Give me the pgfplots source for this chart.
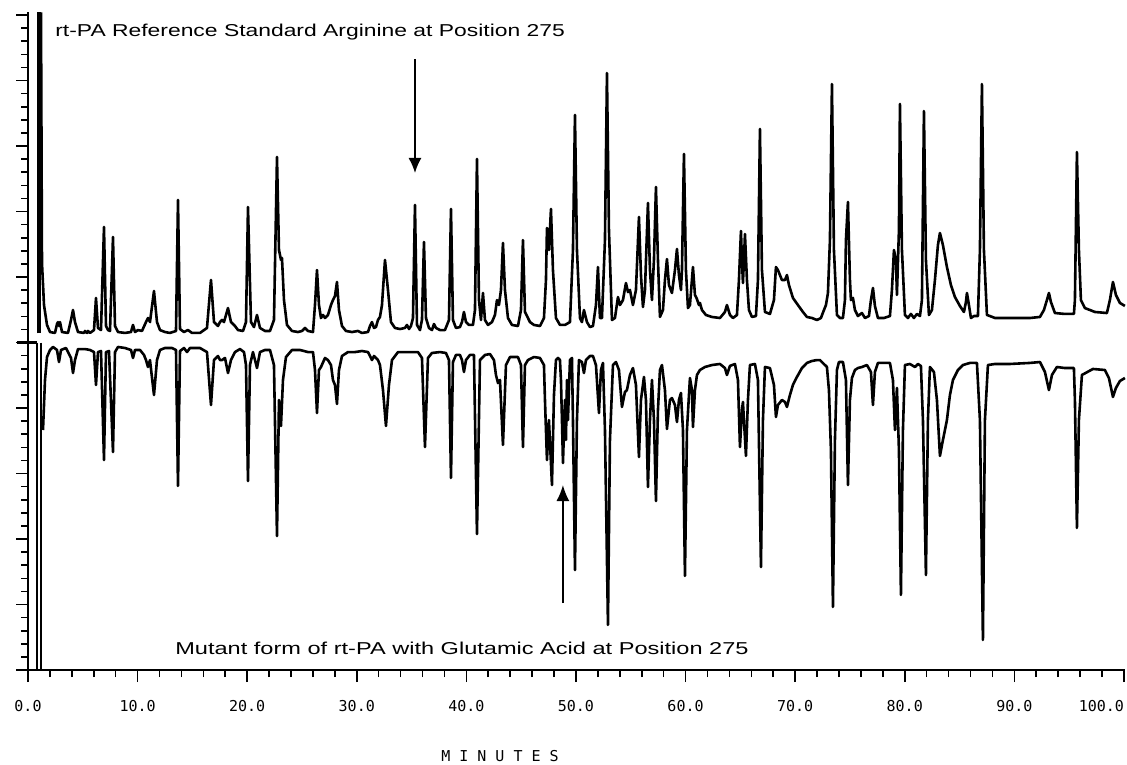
\documentclass[border=0pt]{standalone}
\usepackage{fontspec}
\usepackage{pgfplots}
\pgfplotsset{compat=1.18}
\usetikzlibrary{arrows.meta}
\setmainfont{Liberation Sans}
\newfontfamily\monofont{DejaVu Sans Mono}

\begin{document}
\begin{tikzpicture}
\begin{axis}[
    scale only axis,
    width=548.5pt,
    height=328.8pt,
    xmin=0, xmax=100.1,
    ymin=-25, ymax=25.2,
    axis lines*=left,
    axis line style={line width=0.8pt},
    tick align=outside,
    xtick={0,10,...,100},
    xticklabels={0.0,10.0,20.0,30.0,40.0,50.0,60.0,70.0,80.0,90.0,\llap{100.0}},
    extra x ticks={2,4,6,8,12,14,16,18,22,24,26,28,32,34,36,38,42,44,46,48,52,54,56,58,62,64,66,68,72,74,76,78,82,84,86,88,92,94,96,98},
    extra x tick labels={},
    extra x tick style={major tick length=3.5pt},
    ytick={-25,-20,...,25},
    yticklabels={},
    extra y ticks={-24,-23,-22,-21,-19,-18,-17,-16,-14,-13,-12,-11,-9,-8,-7,-6,-4,-3,-2,-1,1,2,3,4,6,7,8,9,11,12,13,14,16,17,18,19,21,22,23,24},
    extra y tick labels={},
    extra y tick style={major tick length=3.5pt},
    major tick length=6pt,
    tick style={black, line width=0.8pt},
    xticklabel style={font=\monofont\fontsize{7.5}{9}\selectfont, anchor=base, yshift=-14.5pt},
    clip=false,
    no markers,
    trace/.style={black, line width=1.3pt, line join=round, mark=none},
]

% solvent front, off scale
\addplot[black, line width=2.2pt] coordinates {(0.98,0.7) (0.98,25.2)};
\addplot[black, line width=0.9pt] coordinates {(0.85,0) (0.85,-25)};
\addplot[black, line width=0.9pt] coordinates {(1.16,0) (1.16,-25)};

% reference standard (Arg 275)
\addplot[trace] coordinates {
(1.186,25.2) (1.277,6.07) (1.460,2.86) (1.734,1.34) (2.007,0.80) (2.464,0.73)
(2.646,1.41) (2.737,1.56) (2.828,1.26) (2.920,1.56) (3.102,0.80) (3.650,0.73)
(3.923,1.72) (4.106,2.48) (4.288,1.56) (4.562,0.80) (5.109,0.73) (5.201,0.88)
(5.383,0.73) (5.474,0.88) (5.657,0.73) (6.022,0.95) (6.204,3.40) (6.387,1.11)
(6.661,0.95) (6.934,8.82) (7.117,1.26) (7.299,0.95) (7.482,0.88) (7.755,8.05)
(7.938,1.26) (8.212,0.80) (8.850,0.73) (9.398,0.80) (9.580,1.34) (9.763,0.80)
(10.036,0.95) (10.401,0.88) (10.766,1.56) (10.949,1.87) (11.131,1.56) (11.496,3.93)
(11.770,1.56) (12.044,0.95) (12.500,0.80) (12.956,0.73) (13.504,0.88) (13.686,10.88)
(13.869,1.03) (14.234,0.80) (14.599,0.95) (14.964,0.73) (15.693,0.73) (16.332,1.11)
(16.697,4.77) (16.971,1.56) (17.336,1.26) (17.518,1.56) (17.701,1.72) (17.883,1.56)
(18.248,2.63) (18.522,1.56) (18.887,1.26) (19.161,0.95) (19.617,0.88) (19.891,1.56)
(20.073,10.34) (20.347,1.56) (20.620,1.18) (20.894,2.10) (21.168,1.11) (21.624,0.88)
(22.080,0.88) (22.445,1.72) (22.719,14.16) (22.901,7.06) (23.084,6.30) (23.175,6.45)
(23.358,3.24) (23.631,1.34) (24.088,0.88) (24.635,0.80) (25.000,0.88) (25.274,1.11)
(25.547,0.88) (26.004,0.80) (26.186,2.86) (26.369,5.53) (26.551,2.86) (26.734,1.87)
(26.916,2.10) (27.099,1.87) (27.372,2.10) (27.646,2.86) (27.828,3.24) (28.011,3.55)
(28.193,4.62) (28.376,2.48) (28.650,1.26) (29.015,0.88) (29.562,0.80) (30.109,0.88)
(30.474,0.73) (31.022,0.80) (31.204,1.26) (31.387,1.56) (31.569,1.11) (31.752,1.18)
(31.934,1.72) (32.117,1.95) (32.299,2.86) (32.573,6.30) (32.847,4.01) (33.120,1.56)
(33.485,1.11) (33.942,1.03) (34.398,1.11) (34.580,1.34) (34.763,1.03) (34.945,1.26)
(35.128,1.87) (35.310,10.50) (35.493,1.34) (35.766,0.95) (35.949,1.72) (36.131,7.67)
(36.314,1.87) (36.588,1.11) (36.861,0.95) (37.044,1.41) (37.226,1.11) (37.591,0.95)
(38.047,0.95) (38.412,1.72) (38.595,10.19) (38.777,1.72) (39.051,1.11) (39.416,1.18)
(39.599,1.56) (39.781,2.33) (39.964,1.56) (40.237,1.34) (40.602,1.34) (40.785,2.48)
(40.967,14.01) (41.150,3.24) (41.332,1.72) (41.515,3.78) (41.697,1.72) (41.971,1.34)
(42.336,1.56) (42.609,2.10) (42.792,3.24) (42.974,2.86) (43.157,4.01) (43.339,7.60)
(43.522,4.01) (43.796,1.87) (44.161,1.34) (44.708,1.26) (44.982,2.48) (45.164,7.82)
(45.347,2.33) (45.620,1.87) (45.803,1.56) (46.168,1.34) (46.715,1.26) (47.080,1.87)
(47.263,4.77) (47.354,8.74) (47.536,7.06) (47.719,10.19) (47.901,5.53) (48.175,1.87)
(48.540,1.34) (48.996,1.34) (49.453,1.56) (49.726,7.06) (49.909,17.37) (50.091,7.06)
(50.365,1.87) (50.547,1.56) (50.730,2.48) (51.004,1.56) (51.277,1.18) (51.551,1.26)
(51.825,2.86) (52.007,5.76) (52.190,1.87) (52.372,1.87) (52.646,7.82) (52.828,20.57)
(53.011,8.59) (53.285,1.72) (53.558,1.87) (53.832,3.47) (54.015,2.86) (54.288,3.24)
(54.562,4.54) (54.745,3.85) (54.927,4.01) (55.201,2.86) (55.474,4.01) (55.748,9.58)
(55.931,5.15) (56.113,2.71) (56.296,4.01) (56.569,10.65) (56.752,5.53) (56.934,3.24)
(57.117,6.30) (57.299,11.87) (57.482,6.30) (57.664,1.95) (57.938,2.48) (58.120,4.77)
(58.303,6.37) (58.485,4.39) (58.759,3.78) (59.033,5.53) (59.215,7.14) (59.398,5.15)
(59.580,4.01) (59.672,5.53) (59.854,14.39) (60.036,5.53) (60.219,2.63) (60.401,2.86)
(60.675,5.76) (60.858,3.63) (61.040,3.32) (61.223,2.86) (61.314,3.02) (61.496,2.48)
(61.861,2.10) (62.409,1.95) (63.139,1.87) (63.595,2.33) (63.777,2.86) (64.051,2.10)
(64.325,1.87) (64.690,2.10) (64.872,4.77) (65.055,8.51) (65.146,6.30) (65.237,4.54)
(65.328,6.30) (65.420,8.28) (65.602,4.77) (65.785,2.48) (66.058,1.95) (66.423,2.02)
(66.606,4.77) (66.788,16.30) (66.971,5.53) (67.245,2.33) (67.701,2.18) (68.066,3.24)
(68.248,5.76) (68.431,5.53) (68.796,4.77) (69.069,4.77) (69.252,5.15) (69.434,4.39)
(69.799,3.40) (70.255,2.86) (70.712,2.33) (71.077,1.95) (71.533,1.87) (71.989,1.72)
(72.354,1.87) (72.628,2.48) (72.810,2.86) (72.993,3.78) (73.175,7.82) (73.358,19.73)
(73.540,7.06) (73.814,2.10) (74.088,1.87) (74.361,1.87) (74.544,3.24) (74.635,7.82)
(74.818,10.73) (75.000,4.77) (75.091,3.24) (75.274,3.40) (75.456,2.48) (75.730,2.02)
(76.095,2.25) (76.369,1.87) (76.734,2.02) (76.916,3.24) (77.099,4.16) (77.281,2.79)
(77.555,1.87) (78.102,1.87) (78.650,2.02) (78.832,4.01) (79.015,7.06) (79.197,6.30)
(79.288,3.63) (79.471,8.59) (79.562,18.21) (79.745,7.06) (80.018,2.10) (80.292,1.87)
(80.566,2.18) (80.839,1.87) (81.113,2.18) (81.387,2.02) (81.569,3.24) (81.752,17.67)
(81.934,6.30) (82.208,2.10) (82.482,2.48) (82.755,4.77) (83.029,7.44) (83.212,8.36)
(83.485,7.44) (83.850,5.76) (84.215,4.39) (84.580,3.47) (85.036,2.79) (85.401,2.33)
(85.584,3.09) (85.675,3.78) (85.858,2.86) (86.040,1.87) (86.314,2.02) (86.679,2.02)
(86.861,7.06) (87.044,19.73) (87.226,7.06) (87.500,2.10) (87.774,2.02) (88.230,1.87)
(89.599,1.87) (91.423,1.87) (92.336,1.95) (92.701,2.48) (92.974,3.24) (93.157,3.78)
(93.339,3.09) (93.704,2.25) (94.617,2.18) (95.438,2.18) (95.529,3.24) (95.712,14.54)
(95.894,7.06) (96.077,3.24) (96.442,2.63) (97.354,2.33) (98.449,2.25) (98.720,3.24)
(99.000,4.62) (99.270,3.63) (99.635,3.02) (100.091,2.79)
};

% mutant (Glu 275), drawn inverted
\addplot[trace] coordinates {
(1.369,-6.68) (1.551,-2.86) (1.734,-1.11) (2.007,-0.57) (2.281,-0.34) (2.646,-0.57)
(2.828,-1.49) (3.011,-0.57) (3.467,-0.42) (3.923,-1.18) (4.106,-2.33) (4.288,-1.34)
(4.562,-0.50) (5.201,-0.50) (5.657,-0.57) (6.022,-0.73) (6.204,-3.24) (6.387,-0.73)
(6.661,-0.65) (6.934,-8.97) (7.117,-0.73) (7.391,-0.65) (7.755,-8.36) (7.938,-0.73)
(8.212,-0.34) (8.850,-0.42) (9.398,-0.57) (9.580,-1.18) (9.763,-0.57) (10.219,-0.57)
(10.584,-0.95) (10.766,-1.34) (10.949,-1.87) (11.131,-1.34) (11.496,-4.01) (11.770,-1.34)
(12.044,-0.57) (12.500,-0.42) (13.139,-0.42) (13.504,-0.57) (13.686,-10.95) (13.869,-0.65)
(14.234,-0.42) (14.507,-0.73) (14.781,-0.42) (15.693,-0.42) (16.332,-0.73) (16.697,-4.77)
(16.971,-1.34) (17.336,-1.03) (17.518,-1.34) (17.701,-1.34) (17.974,-1.18) (18.248,-2.33)
(18.522,-1.34) (18.887,-0.73) (19.343,-0.50) (19.708,-0.73) (19.891,-1.72) (20.073,-10.57)
(20.255,-1.72) (20.529,-0.73) (20.894,-1.95) (21.168,-0.73) (21.624,-0.57) (22.080,-0.57)
(22.445,-1.72) (22.719,-14.77) (22.901,-4.39) (23.084,-6.37) (23.266,-2.86) (23.540,-1.11)
(24.088,-0.57) (24.818,-0.57) (25.547,-0.73) (26.004,-0.73) (26.186,-2.10) (26.369,-5.38)
(26.551,-2.10) (26.734,-1.87) (27.099,-1.18) (27.372,-1.34) (27.646,-1.72) (27.828,-2.86)
(28.011,-3.24) (28.193,-4.69) (28.376,-2.10) (28.650,-1.03) (29.197,-0.73) (29.836,-0.73)
(30.474,-0.65) (31.022,-0.73) (31.204,-1.03) (31.387,-1.34) (31.569,-1.03) (31.934,-1.34)
(32.117,-1.72) (32.391,-3.63) (32.664,-6.37) (32.938,-3.24) (33.212,-1.34) (33.759,-0.73)
(34.672,-0.73) (35.584,-0.73) (35.949,-1.18) (36.223,-7.98) (36.496,-1.18) (36.861,-0.80)
(37.591,-0.73) (38.139,-0.80) (38.412,-1.34) (38.595,-10.34) (38.777,-1.49) (39.051,-0.95)
(39.416,-0.95) (39.599,-1.34) (39.781,-2.25) (39.964,-1.34) (40.328,-0.95) (40.693,-0.95)
(40.967,-14.62) (41.241,-1.34) (41.697,-0.95) (42.153,-0.88) (42.518,-1.34) (42.701,-2.48)
(42.883,-3.09) (43.066,-2.86) (43.339,-7.82) (43.613,-1.72) (43.978,-1.11) (44.708,-1.11)
(44.982,-1.72) (45.164,-7.98) (45.347,-1.72) (45.620,-1.34) (46.168,-1.11) (46.715,-1.18)
(47.080,-1.72) (47.172,-4.39) (47.354,-8.97) (47.536,-5.92) (47.810,-10.88) (47.993,-4.01)
(48.175,-1.34) (48.358,-1.18) (48.540,-1.34) (48.631,-2.86) (48.723,-5.92) (48.814,-9.20)
(48.996,-4.39) (49.088,-7.44) (49.179,-2.86) (49.270,-5.92) (49.453,-1.34) (49.635,-1.18)
(49.726,-5.92) (49.909,-17.37) (50.091,-5.92) (50.274,-1.34) (50.547,-1.49) (50.730,-2.33)
(50.912,-1.34) (51.277,-1.03) (51.551,-1.03) (51.825,-1.72) (52.099,-5.38) (52.281,-2.10)
(52.464,-1.56) (52.646,-6.68) (52.920,-21.56) (53.102,-7.44) (53.376,-1.72) (53.650,-1.49)
(53.923,-2.10) (54.197,-4.92) (54.471,-3.78) (54.653,-3.63) (54.927,-2.48) (55.201,-1.95)
(55.474,-3.24) (55.748,-8.74) (55.931,-4.39) (56.204,-2.63) (56.387,-4.39) (56.569,-11.03)
(56.752,-5.92) (56.934,-2.86) (57.117,-5.92) (57.299,-12.10) (57.482,-5.15) (57.664,-2.10)
(57.847,-1.72) (58.120,-3.63) (58.303,-6.60) (58.577,-4.39) (58.759,-4.24) (59.033,-4.77)
(59.215,-6.07) (59.398,-4.39) (59.580,-3.85) (59.763,-6.68) (59.945,-17.82) (60.128,-6.68)
(60.401,-2.71) (60.584,-3.63) (60.675,-6.45) (60.858,-3.63) (61.040,-2.48) (61.314,-2.10)
(61.770,-1.87) (62.409,-1.72) (63.139,-1.64) (63.595,-1.95) (63.777,-2.48) (64.051,-1.79)
(64.507,-1.64) (64.781,-2.86) (64.964,-7.98) (65.146,-5.15) (65.237,-4.54) (65.328,-5.92)
(65.511,-8.66) (65.693,-4.39) (65.876,-1.72) (66.332,-1.64) (66.606,-2.86) (66.880,-17.14)
(67.062,-5.92) (67.245,-1.87) (67.701,-1.95) (68.066,-3.24) (68.248,-5.69) (68.431,-4.77)
(68.796,-4.39) (69.069,-4.54) (69.252,-4.92) (69.526,-4.01) (69.799,-3.24) (70.164,-2.63)
(70.620,-1.95) (71.077,-1.56) (71.533,-1.41) (71.989,-1.34) (72.263,-1.34) (72.719,-1.72)
(72.901,-1.87) (73.084,-3.63) (73.266,-8.21) (73.449,-20.19) (73.631,-7.44) (73.814,-2.10)
(73.996,-1.49) (74.361,-1.49) (74.635,-2.86) (74.818,-10.88) (75.000,-4.39) (75.182,-2.71)
(75.456,-2.10) (75.730,-1.95) (76.095,-1.87) (76.551,-1.72) (76.916,-2.25) (77.099,-4.77)
(77.281,-2.25) (77.555,-1.56) (78.102,-1.56) (78.650,-1.56) (78.924,-2.86) (79.106,-6.68)
(79.197,-5.15) (79.288,-3.47) (79.471,-8.21) (79.653,-19.27) (79.836,-6.68) (80.018,-1.72)
(80.474,-1.64) (80.931,-1.87) (81.204,-1.64) (81.478,-1.79) (81.661,-5.92) (81.934,-17.75)
(82.117,-5.92) (82.299,-1.87) (82.664,-2.25) (82.938,-4.39) (83.212,-8.66) (83.485,-7.44)
(83.850,-5.92) (84.124,-4.01) (84.398,-2.86) (84.854,-2.10) (85.310,-1.72) (85.949,-1.56)
(86.588,-1.56) (86.861,-5.92) (87.135,-22.71) (87.318,-5.92) (87.591,-1.72) (88.230,-1.64)
(89.599,-1.64) (91.423,-1.56) (92.336,-1.49) (92.792,-2.25) (93.157,-3.63) (93.431,-2.48)
(93.887,-1.87) (94.617,-1.95) (95.438,-1.95) (95.529,-4.39) (95.712,-14.16) (95.894,-5.92)
(96.168,-2.48) (97.172,-2.02) (98.266,-2.10) (98.631,-2.71) (99.000,-4.16) (99.270,-3.47)
(99.635,-2.94) (100.091,-2.71)
};

% zero mark on the left axis
\draw[line width=1.5pt] (axis cs:-1.0,0) -- (axis cs:0.8,0);

% annotations
\draw[line width=0.8pt, -{Latex[length=7.5pt,width=6.5pt]}] (axis cs:35.31,21.64) -- (axis cs:35.31,12.94);
\draw[line width=0.8pt, -{Latex[length=8pt,width=6.5pt]}] (axis cs:48.81,-19.89) -- (axis cs:48.81,-10.88);

\node[anchor=west, inner sep=0pt, font=\fontsize{8.6}{10}\selectfont] at (axis cs:2.46,23.7)
  {\scalebox{1.33}[1]{rt-PA Reference Standard Arginine at Position 275}};
\node[anchor=west, inner sep=0pt, font=\fontsize{8.6}{10}\selectfont] at (axis cs:13.41,-23.32)
  {\scalebox{1.37}[1]{Mutant form of rt-PA with Glutamic Acid at Position 275}};

\node[anchor=base, inner sep=0pt, font=\monofont\fontsize{7.5}{9}\selectfont] at (axis cs:43.07,-25) [yshift=-45.5pt]
  {M I N U T E S};

\end{axis}
\pgfresetboundingbox
\useasboundingbox (-14pt,-47pt) rectangle (549.5pt,335pt);
\end{tikzpicture}
\end{document}
